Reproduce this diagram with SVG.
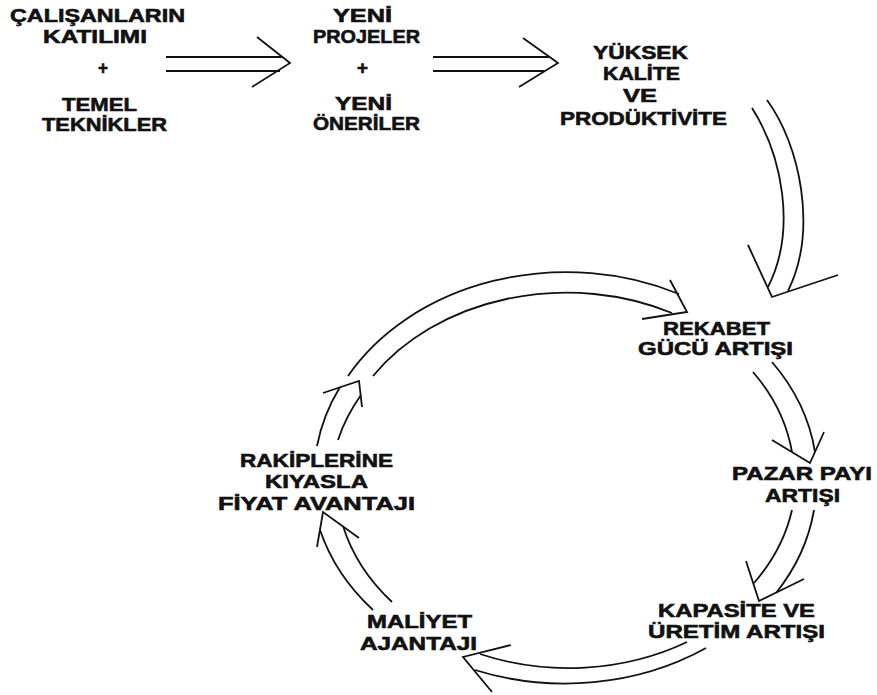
<svg xmlns="http://www.w3.org/2000/svg" width="877" height="695" viewBox="0 0 877 695">
<style>
text{font-family:"Liberation Sans",Arial,sans-serif;font-weight:bold;font-size:19px;fill:#111;stroke:#111;stroke-width:0.6;}
.c path,.c polyline,.c line{fill:none;stroke:#111;stroke-width:1.8;stroke-linejoin:miter;stroke-linecap:butt;}
</style>
<rect width="877" height="695" fill="#fff"/>
<g id="n1">
<text x="10" y="22" textLength="175" lengthAdjust="spacingAndGlyphs">ÇALIŞANLARIN</text>
<text x="43" y="43" textLength="104" lengthAdjust="spacingAndGlyphs">KATILIMI</text>
<text x="98" y="74" textLength="10" lengthAdjust="spacingAndGlyphs">+</text>
<text x="62" y="111" textLength="75" lengthAdjust="spacingAndGlyphs">TEMEL</text>
<text x="42" y="131" textLength="125" lengthAdjust="spacingAndGlyphs">TEKNİKLER</text>
</g>
<g id="n2">
<text x="333" y="22" textLength="59" lengthAdjust="spacingAndGlyphs">YENİ</text>
<text x="313" y="43" textLength="107" lengthAdjust="spacingAndGlyphs">PROJELER</text>
<text x="357" y="74" textLength="11" lengthAdjust="spacingAndGlyphs">+</text>
<text x="335" y="110" textLength="57" lengthAdjust="spacingAndGlyphs">YENİ</text>
<text x="313" y="130" textLength="107" lengthAdjust="spacingAndGlyphs">ÖNERİLER</text>
</g>
<g id="n3">
<text x="593" y="59" textLength="95" lengthAdjust="spacingAndGlyphs">YÜKSEK</text>
<text x="603" y="80" textLength="77" lengthAdjust="spacingAndGlyphs">KALİTE</text>
<text x="623" y="102" textLength="34" lengthAdjust="spacingAndGlyphs">VE</text>
<text x="560" y="125" textLength="167" lengthAdjust="spacingAndGlyphs">PRODÜKTİVİTE</text>
</g>
<g id="n4">
<text x="663" y="335" textLength="107" lengthAdjust="spacingAndGlyphs">REKABET</text>
<text x="638" y="355" textLength="155" lengthAdjust="spacingAndGlyphs">GÜCÜ ARTIŞI</text>
</g>
<g id="n5">
<text x="732" y="480" textLength="140" lengthAdjust="spacingAndGlyphs">PAZAR PAYI</text>
<text x="765" y="502" textLength="75" lengthAdjust="spacingAndGlyphs">ARTIŞI</text>
</g>
<g id="n6">
<text x="658" y="617" textLength="157" lengthAdjust="spacingAndGlyphs">KAPASİTE VE</text>
<text x="648" y="638" textLength="177" lengthAdjust="spacingAndGlyphs">ÜRETİM ARTIŞI</text>
</g>
<g id="n7">
<text x="367" y="628" textLength="105" lengthAdjust="spacingAndGlyphs">MALİYET</text>
<text x="360" y="650" textLength="117" lengthAdjust="spacingAndGlyphs">AJANTAJI</text>
</g>
<g id="n8">
<text x="240" y="467" textLength="153" lengthAdjust="spacingAndGlyphs">RAKİPLERİNE</text>
<text x="265" y="488" textLength="103" lengthAdjust="spacingAndGlyphs">KIYASLA</text>
<text x="218" y="510" textLength="197" lengthAdjust="spacingAndGlyphs">FİYAT AVANTAJI</text>
</g>
<g id="connectors" class="c">
<line x1="166" y1="57" x2="282" y2="57"/>
<line x1="166" y1="71" x2="280" y2="71"/>
<polyline points="257,37 290,63 252,87"/>
<line x1="433" y1="57" x2="550" y2="57"/>
<line x1="433" y1="71" x2="545" y2="71"/>
<polyline points="523,38 558,63 519,87"/>
<path d="M767,100 C800,145 818,230 788,291"/>
<path d="M752,108 C782,155 797,230 768,287"/>
<polyline points="748,245 772,297 838,275"/>
<path d="M348,376 A250,203 0 0 1 679,294"/>
<path d="M373,376 A232,186 0 0 1 672,313"/>
<polyline points="670,280 687,312 642,319"/>
<path d="M772,362 A250,203 0 0 1 815,452"/>
<path d="M753,372 A232,186 0 0 1 792,452"/>
<polyline points="772,440 810,463 824,432"/>
<path d="M814,510 A250,203 0 0 1 776,593"/>
<path d="M792,510 A232,186 0 0 1 754,583"/>
<polyline points="746,561 759,601 804,579"/>
<path d="M706,648 A250,203 0 0 1 475,670"/>
<path d="M687,642 A232,186 0 0 1 480,654"/>
<polyline points="511,645 463,657 492,692"/>
<path d="M373,610 A250,203 0 0 1 320,530"/>
<path d="M392,602 A232,186 0 0 1 343,526"/>
<polyline points="317,547 323,512 359,538"/>
<path d="M317,446 A250,203 0 0 1 340,387"/>
<path d="M338,440 A232,186 0 0 1 361,395"/>
<polyline points="323,393 359,381 362,407"/>
</g>
</svg>
